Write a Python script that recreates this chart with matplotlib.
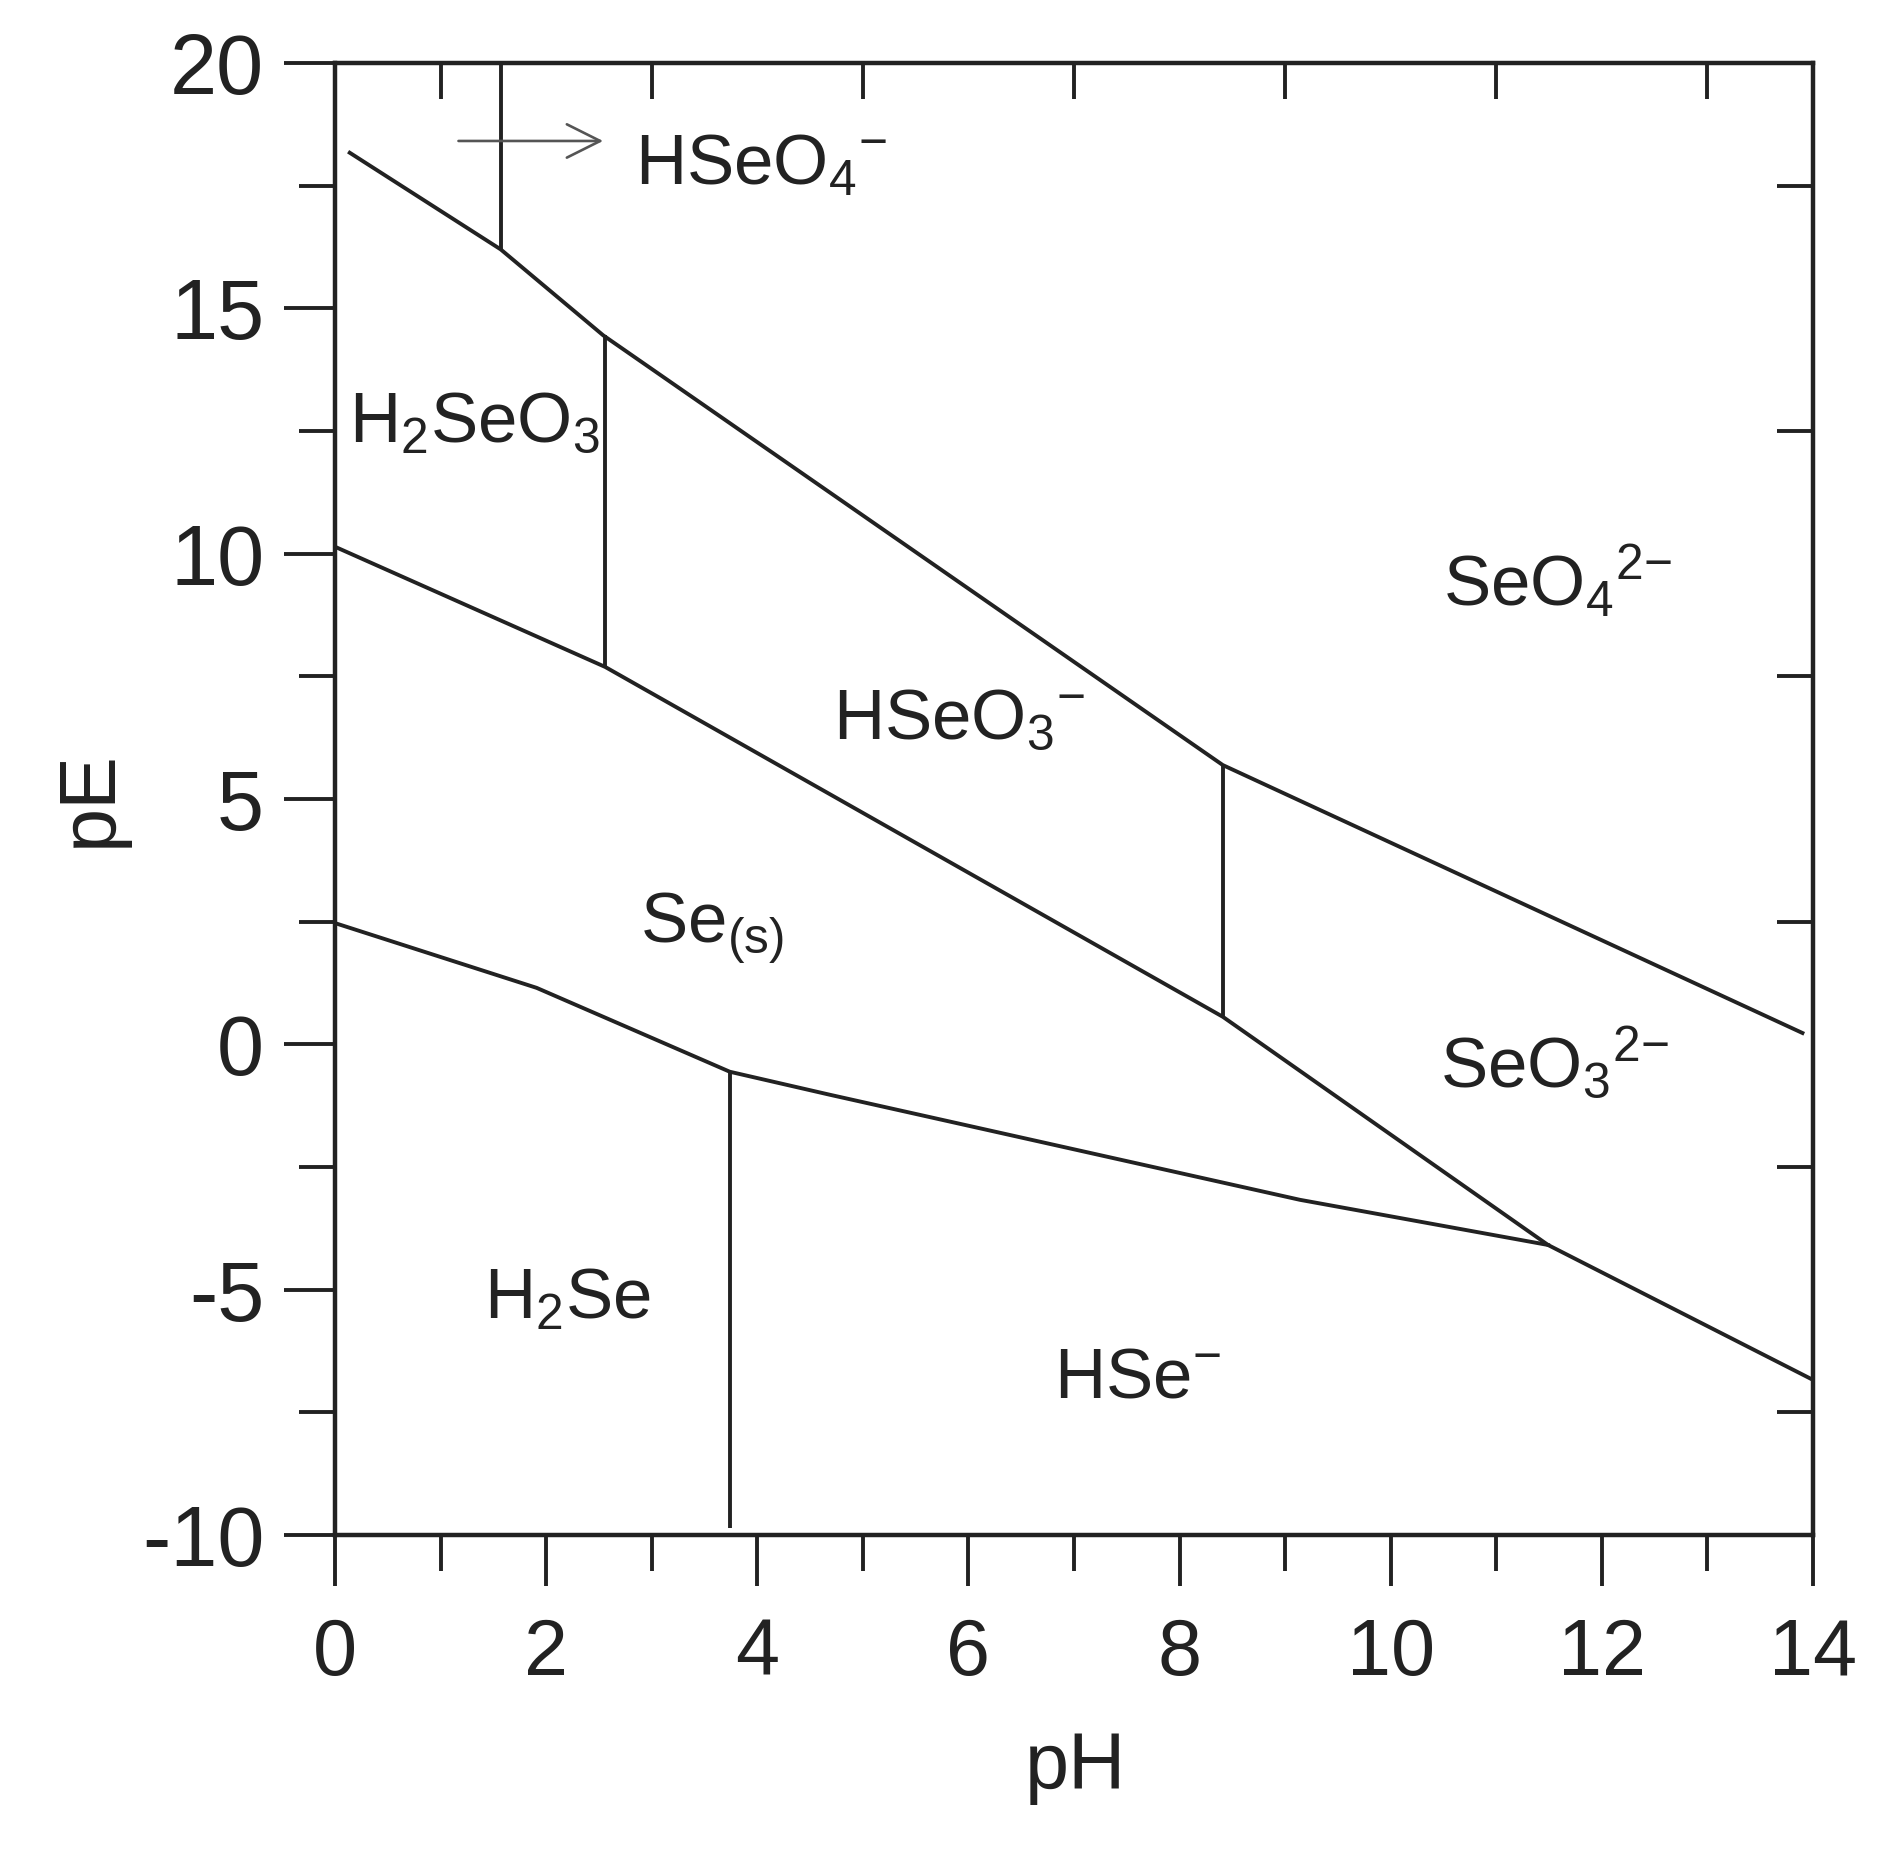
import matplotlib
matplotlib.use('Agg')
import matplotlib.pyplot as plt
from matplotlib.ticker import MultipleLocator

plt.rcParams['font.family'] = ['Liberation Sans', 'DejaVu Sans']
plt.rcParams['mathtext.fontset'] = 'custom'
plt.rcParams['mathtext.rm'] = 'Liberation Sans'
plt.rcParams['mathtext.it'] = 'Liberation Sans'
plt.rcParams['mathtext.default'] = 'regular'
plt.rcParams['axes.unicode_minus'] = False

# boundary lines of the pE-pH diagram
ph_upper = [0.14, 1.57, 2.54, 8.41, 13.9]
pe_upper = [18.17, 16.2, 14.45, 5.69, 0.23]

ph_middle = [0.0, 2.56, 8.41, 11.49, 14.0]
pe_middle = [10.14, 7.69, 0.56, -4.09, -6.84]

ph_lower = [0.0, 1.91, 3.74, 4.69, 9.14, 11.49]
pe_lower = [2.47, 1.15, -0.56, -1.03, -3.17, -4.09]

# vertical (acid/base) boundaries
vert_ph = [1.57, 2.56, 8.41, 3.74]
vert_pe_top = [20.0, 14.45, 5.69, -0.56]
vert_pe_bottom = [16.2, 7.69, 0.56, -9.85]

# species labels: text, pH, pE (left edge, baseline)
species = [r'HSeO$_4{}^{{-}}$', r'H$_2$SeO$_3$', r'SeO$_4{}^{2{-}}$', r'HSeO$_3{}^{{-}}$',
           r'Se$_{(s)}$', r'SeO$_3{}^{2{-}}$', r'H$_2$Se', r'HSe$^{{-}}$']
species_ph = [2.84, 0.13, 10.5, 4.72, 2.89, 10.47, 1.41, 6.81]
species_pe = [17.51, 12.28, 8.95, 6.22, 2.09, -0.87, -5.6, -7.2]

# arrow pointing to HSeO4- region
arrow_ph = [1.17, 2.54]
arrow_pe = 18.41

ink = '#222222'
lw = 2.8

fig = plt.figure(figsize=(18.85, 18.68), dpi=100)
ax = fig.add_axes([0.1777, 0.1783, 0.9618 - 0.1777, 0.9663 - 0.1783])

ax.plot(ph_upper, pe_upper, color=ink, lw=lw)
ax.plot(ph_middle, pe_middle, color=ink, lw=lw)
ax.plot(ph_lower, pe_lower, color=ink, lw=lw)
ax.vlines(vert_ph, vert_pe_bottom, vert_pe_top, color=ink, lw=lw)

ax.annotate('', xy=(arrow_ph[1], arrow_pe), xytext=(arrow_ph[0], arrow_pe),
            arrowprops=dict(arrowstyle='->', color='#555555', lw=1.9,
                            mutation_scale=60, shrinkA=0, shrinkB=0))

for txt, x, y in zip(species, species_ph, species_pe):
    ax.text(x, y, txt, fontsize=51, color=ink, ha='left', va='baseline')

ax.set_xlim(0, 14)
ax.set_ylim(-10, 20)
ax.xaxis.set_major_locator(MultipleLocator(2))
ax.xaxis.set_minor_locator(MultipleLocator(1))
ax.yaxis.set_major_locator(MultipleLocator(5))
ax.yaxis.set_minor_locator(MultipleLocator(2.5))
ax.tick_params(which='major', direction='out', length=37, width=2.8,
               color=ink, labelcolor=ink)
ax.tick_params(which='minor', direction='out', length=26, width=2.8, color=ink)
ax.tick_params(axis='x', which='major', pad=22, labelsize=57)
ax.tick_params(axis='y', which='major', pad=14, labelsize=61)
for s in ax.spines.values():
    s.set_linewidth(3.2)
    s.set_color(ink)

# inward ticks on the top and right sides
top = ax.twiny()
top.set_xlim(0, 14)
top.set_xticks(range(1, 14, 2))
top.tick_params(direction='in', length=26, width=2.8, color=ink, labeltop=False)
right = ax.twinx()
right.set_ylim(-10, 20)
right.set_yticks([-7.5, -2.5, 2.5, 7.5, 12.5, 17.5])
right.tick_params(direction='in', length=26, width=2.8, color=ink, labelright=False)
for a in (top, right):
    for s in a.spines.values():
        s.set_visible(False)

fig.text(0.5708, 0.054, 'pH', fontsize=57, color=ink, ha='center', va='center')
fig.text(0.0477, 0.5723, 'pE', fontsize=57, color=ink, ha='center', va='center',
         rotation=90)

fig.savefig('out.png', dpi=100, facecolor='white')
